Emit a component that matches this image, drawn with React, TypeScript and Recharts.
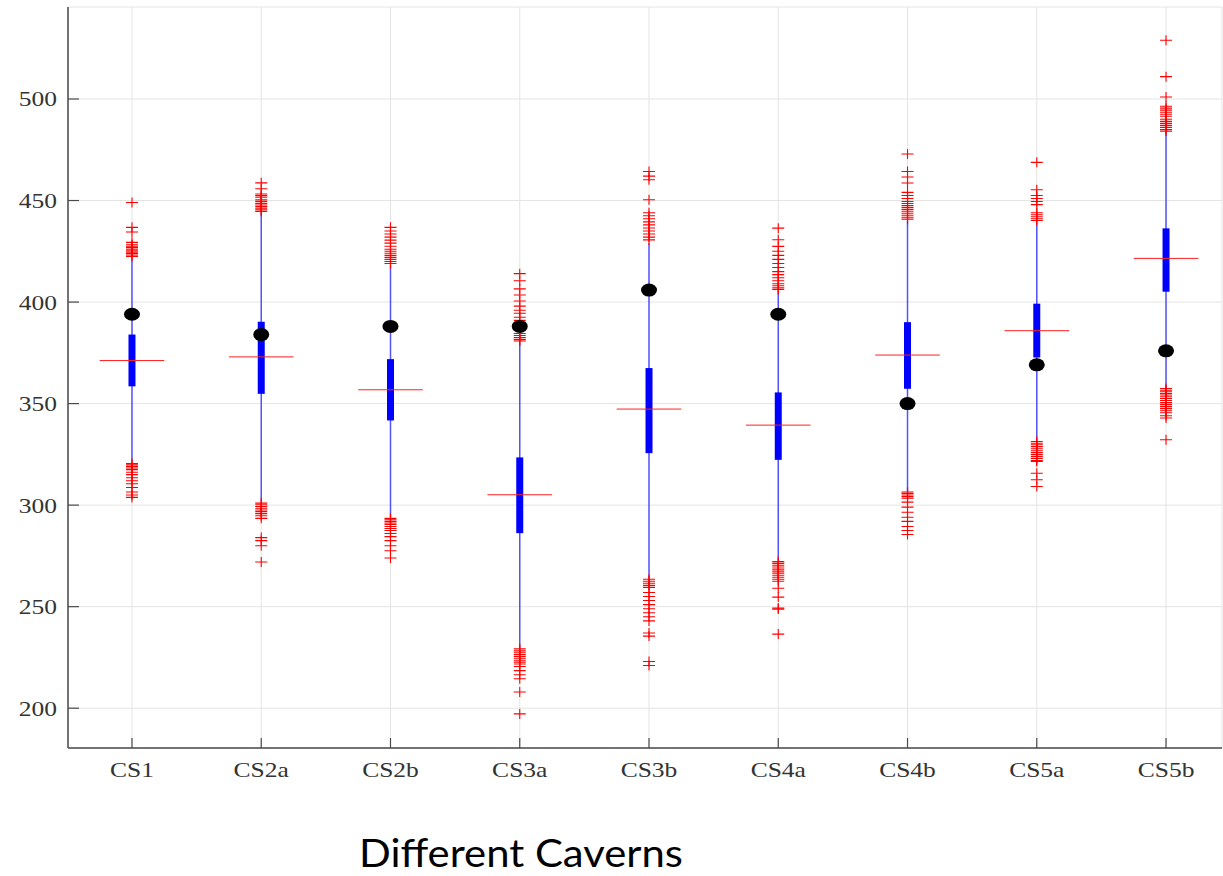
import React from 'react';
import { ScatterChart, Scatter, XAxis, YAxis, CartesianGrid, Label } from 'recharts';

const categories = ['CS1', 'CS2a', 'CS2b', 'CS3a', 'CS3b', 'CS4a', 'CS4b', 'CS5a', 'CS5b'];
const positions = [1, 2, 3, 4, 5, 6, 7, 8, 9];
const yTicks = [200, 250, 300, 350, 400, 450, 500];

const whiskerLow = [322, 302, 294, 230, 264, 273, 307, 332.2, 358];
const boxLow = [358.5, 354.8, 341.7, 286.2, 325.6, 322.3, 357.3, 372.7, 405.1];
const redLine = [371.2, 373, 356.8, 305.1, 347.3, 339.4, 373.9, 385.9, 421.5];
const boxHigh = [384, 390.3, 371.9, 323.5, 367.5, 355.5, 390.1, 399.2, 436.3];
const whiskerHigh = [421, 444, 418, 380, 429, 405.5, 440, 439, 483.5];
const blackDots = [394, 384, 388, 388, 405.9, 394, 350, 369.1, 376];

const outliersCS1 = [449, 436.8, 434.5, 429.4, 428.2, 427.5, 426.8, 426, 425.3, 424.6, 423.9, 423.2, 422.5,
  320.5, 319.8, 319, 318.3, 317.5, 316.2, 315, 313.5, 312, 310.5, 308.7, 306.5, 305, 303.8];
const outliersCS2a = [458.7, 455.8, 453.2, 452.4, 451.6, 450.3, 449.5, 448.6, 447.8, 447, 446.2, 445.4, 444.6,
  301, 300.2, 299.3, 298.5, 297.6, 296.8, 295.8, 294.8, 293.5, 284, 282.5, 280, 272];
const outliersCS2b = [436.8, 435, 433.5, 432, 430.5, 429, 427.5, 426, 425, 424, 423, 422, 421, 420, 419,
  293.5, 292.8, 292, 291.2, 290.5, 289.5, 288.5, 287.5, 286, 284.5, 282.5, 280, 277.5, 274];
const outliersCS3a = [414, 410.5, 406.5, 403.5, 400.5, 398, 396, 394.5, 392.5, 391, 389.5, 387.5, 386, 384.5, 383.5, 382.5, 381.5, 380.8,
  229.3, 228.5, 227.6, 226.5, 225.5, 224.6, 223.6, 222.7, 221.8, 220.5, 218.5, 216.5, 214.5, 208, 197.2];
const outliersCS3b = [464.3, 462, 460.2, 450.4, 444, 442.5, 441, 439.5, 438, 436.5, 435, 433.5, 432, 430.6,
  263.5, 262.5, 261.5, 260.5, 259.5, 257, 255, 253, 251, 249, 247, 245, 243, 237, 235.5, 223, 221];
const outliersCS4a = [436.4, 430.7, 427.4, 425, 423, 421, 419, 417, 415, 413.5, 412, 410.5, 409, 408, 407, 406.2,
  272.2, 271.3, 270.4, 269.5, 268.5, 267.5, 266.5, 265.5, 264.5, 263.5, 262.5, 259.1, 254.7, 249.3, 248.8, 236.5];
const outliersCS4b = [472.9, 464.3, 461.6, 458.6, 454, 452.5, 451, 449.5, 448.5, 447.5, 446.5, 445.5, 444.5, 443.5, 442.5, 441.5, 440.8,
  306.5, 305.8, 305, 304.2, 303.4, 301.5, 299, 296.5, 294, 292, 289.5, 287.5, 285.5];
const outliersCS5a = [468.8, 455.3, 452.5, 451, 449.5, 448, 444, 443, 442, 441, 440.2,
  331.3, 330.5, 329.7, 328.9, 328, 327, 326, 325, 324, 323, 322, 321.5, 315.7, 312.5, 309.2];
const outliersCS5b = [528.9, 511, 501, 496.4, 495.5, 494.5, 493.5, 492.5, 491.5, 490, 489, 488, 487, 486, 485, 484.2,
  357.4, 356.6, 355.8, 355, 354.2, 353.4, 352.5, 351.5, 350.5, 349.5, 348.5, 347.5, 346.5, 345.5, 344, 342.9, 332.2];

const outliers = [outliersCS1, outliersCS2a, outliersCS2b, outliersCS3a, outliersCS3b, outliersCS4a, outliersCS4b, outliersCS5a, outliersCS5b];

const X_DOMAIN: [number, number] = [0.505, 9.433];
const Y_DOMAIN: [number, number] = [180.4, 545.3];
const HALF_RED = 0.25;

const AXIS_COLOR = '#4a4a4a';
const SERIF = '"Liberation Serif", "DejaVu Serif", serif';

const noShape = () => <g />;

const plusShape = (p: any) => (
  <path d={`M${p.cx - 6},${p.cy}h12M${p.cx},${p.cy - 5}v10`} stroke="#ff0000" strokeWidth={1.1} fill="none" />
);
const dotShape = (p: any) => <ellipse cx={p.cx} cy={p.cy} rx={8} ry={6.5} fill="#000" />;

const whiskerData = positions.map((x, i) => [{ x, y: whiskerLow[i] }, { x, y: whiskerHigh[i] }]);
const boxData = positions.map((x, i) => [{ x, y: boxLow[i] }, { x, y: boxHigh[i] }]);
const redData = positions.map((x, i) => [{ x: x - HALF_RED, y: redLine[i] }, { x: x + HALF_RED, y: redLine[i] }]);
const dotData = positions.map((x, i) => ({ x, y: blackDots[i] }));
const outlierData = positions.flatMap((x, i) => outliers[i].map((y) => ({ x, y })));

const BottomTick = (p: any) => (
  <g>
    <line x1={p.x} x2={p.x} y1={p.y} y2={p.y - 10} stroke={AXIS_COLOR} strokeWidth={1.2} />
    <text transform={`translate(${p.x},${p.y + 29}) scale(1.16,1)`} x={0} y={0} textAnchor="middle"
      fontFamily={SERIF} fontSize={22} fill="#333">
      {categories[Math.round(p.payload.value) - 1]}
    </text>
  </g>
);
const TopTick = (p: any) => (
  <line x1={p.x} x2={p.x} y1={p.y} y2={p.y + 10} stroke={AXIS_COLOR} strokeWidth={1.2} />
);
const LeftTick = (p: any) => (
  <g>
    <line x1={p.x} x2={p.x + 11} y1={p.y} y2={p.y} stroke={AXIS_COLOR} strokeWidth={1.2} />
    <text transform={`translate(${p.x - 11},${p.y + 7.5}) scale(1.16,1)`} x={0} y={0} textAnchor="end"
      fontFamily={SERIF} fontSize={22} fill="#333">
      {p.payload.value}
    </text>
  </g>
);
const RightTick = (p: any) => (
  <line x1={p.x} x2={p.x - 11} y1={p.y} y2={p.y} stroke={AXIS_COLOR} strokeWidth={1.2} />
);

export default function App() {
  return (
    <div style={{ position: 'absolute', left: 0, top: 0, width: 1223, height: 876, background: '#fff' }}>
      <ScatterChart width={1223} height={876} margin={{ top: 7, right: 1, bottom: 0, left: 0 }}>
        <CartesianGrid stroke="#e4e4e4" strokeWidth={1} />
        <XAxis
          type="number"
          dataKey="x"
          domain={X_DOMAIN}
          allowDataOverflow
          ticks={positions}
          interval={0}
          height={128}
          tickSize={0}
          tickMargin={0}
          tickLine={false}
          tick={BottomTick}
          axisLine={{ stroke: AXIS_COLOR, strokeWidth: 1.5 }}
        >
          <Label
            content={() => (
              <text x={521} y={867} textAnchor="middle" fontFamily="Lato, 'Open Sans', sans-serif" fontSize={39}
                textLength={324} lengthAdjust="spacingAndGlyphs" fill="#000">
                Different Caverns
              </text>
            )}
          />
        </XAxis>
        <XAxis
          xAxisId="top"
          orientation="top"
          type="number"
          dataKey="x"
          domain={X_DOMAIN}
          allowDataOverflow
          ticks={positions}
          interval={0}
          height={0}
          tickSize={0}
          tickMargin={0}
          tickLine={false}
          tick={TopTick}
          axisLine={{ stroke: AXIS_COLOR, strokeWidth: 1.5 }}
        />
        <YAxis
          type="number"
          dataKey="y"
          domain={Y_DOMAIN}
          allowDataOverflow
          ticks={yTicks}
          interval={0}
          width={68}
          tickSize={0}
          tickMargin={0}
          tickLine={false}
          tick={LeftTick}
          axisLine={{ stroke: AXIS_COLOR, strokeWidth: 1.5 }}
        />
        <YAxis
          yAxisId="right"
          orientation="right"
          type="number"
          dataKey="y"
          domain={Y_DOMAIN}
          allowDataOverflow
          ticks={yTicks}
          interval={0}
          width={0}
          tickSize={0}
          tickMargin={0}
          tickLine={false}
          tick={RightTick}
          axisLine={{ stroke: AXIS_COLOR, strokeWidth: 1.5 }}
        />
        {whiskerData.map((d, i) => (
          <Scatter key={`w${i}`} data={d} line={{ stroke: '#5252ff', strokeWidth: 1.5 }} shape={noShape}
            isAnimationActive={false} legendType="none" />
        ))}
        {boxData.map((d, i) => (
          <Scatter key={`b${i}`} data={d} line={{ stroke: '#0000ff', strokeWidth: 7 }} shape={noShape}
            isAnimationActive={false} legendType="none" />
        ))}
        {redData.map((d, i) => (
          <Scatter key={`r${i}`} data={d} line={{ stroke: '#ff2020', strokeWidth: 1 }} shape={noShape}
            isAnimationActive={false} legendType="none" />
        ))}
        <Scatter data={outlierData} shape={plusShape} isAnimationActive={false} legendType="none" />
        <Scatter data={dotData} shape={dotShape} isAnimationActive={false} legendType="none" />
      </ScatterChart>
    </div>
  );
}
